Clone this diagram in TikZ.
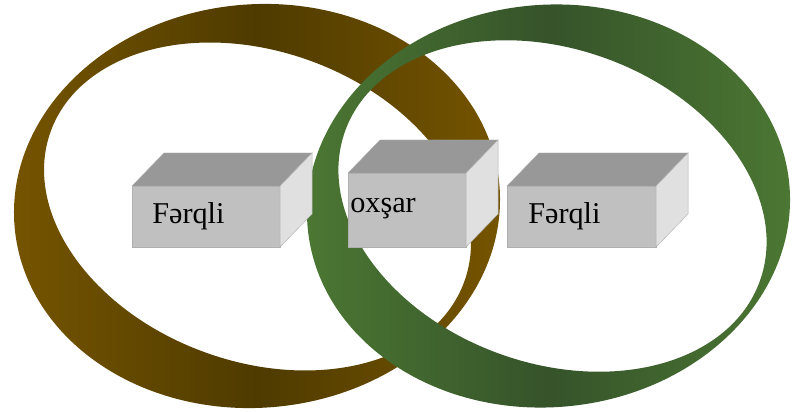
\documentclass[tikz,border=0pt]{standalone}
\usepackage{fontspec}
\setmainfont{Liberation Serif}
\definecolor{ringbrownd}{HTML}{4F3B00}
\definecolor{ringbrownl}{HTML}{765500}
\definecolor{ringgreend}{HTML}{36532A}
\definecolor{ringgreenl}{HTML}{4C7833}
\definecolor{boxtop}{HTML}{989898}
\definecolor{boxfront}{HTML}{C0C0C0}
\definecolor{boxside}{HTML}{E0E0E0}
\definecolor{boxedge}{HTML}{B0B0B0}
\tikzset{
  frontface/.style={fill=boxfront, draw=boxedge, line width=0.5pt, inner sep=0pt, outer sep=0pt, anchor=south west},
  topface/.style={fill=boxtop, draw=boxedge, line width=0.3pt},
  sideface/.style={fill=boxside, draw=boxedge, line width=0.3pt},
  boxlabel/.style={anchor=base west, inner sep=0pt, font=\fontsize{21.5}{24}\selectfont}
}
\begin{document}
\begin{tikzpicture}[x=0.025cm, y=-0.025cm]
  \useasboundingbox (0,0) rectangle (793,412);
  % rings
  \shade [even odd rule, left color=ringbrownl, right color=ringbrownl, middle color=ringbrownd]
    {[rotate around={5:(257,206)}] (257,206) ellipse [x radius=243.3, y radius=201.7]}
    {[rotate around={-20:(257.5,206.5)}] (257.5,206.5) ellipse [x radius=220, y radius=155]};
  \shade [even odd rule, left color=ringgreenl, right color=ringgreenl, middle color=ringgreend]
    {[rotate around={5:(548.5,206)}] (548.5,206) ellipse [x radius=241.8, y radius=201.2]}
    {[rotate around={-20:(552.5,206)}] (552.5,206) ellipse [x radius=220.5, y radius=157]};
  % boxes
  \node [frontface, minimum width=3.7cm, minimum height=1.525cm] (lfront) at (132,247) {};
  \node [frontface, minimum width=2.95cm, minimum height=1.85cm] (mfront) at (348,247) {};
  \node [frontface, minimum width=3.725cm, minimum height=1.525cm] (rfront) at (507,247) {};
  \foreach \f in {lfront,mfront,rfront} {
    \draw [topface] (\f.north west) -- ++(32,-33) -- ([shift={(32,-33)}]\f.north east) -- (\f.north east) -- cycle;
    \draw [sideface] (\f.north east) -- ++(32,-33) -- ([shift={(32,-33)}]\f.south east) -- (\f.south east) -- cycle;
  }
  \node [boxlabel] (ltext) at (152,223) {Fərqli};
  \node [boxlabel] (mtext) at (350,212) {oxşar};
  \node [boxlabel] (rtext) at (528,223) {Fərqli};
\end{tikzpicture}
\end{document}
